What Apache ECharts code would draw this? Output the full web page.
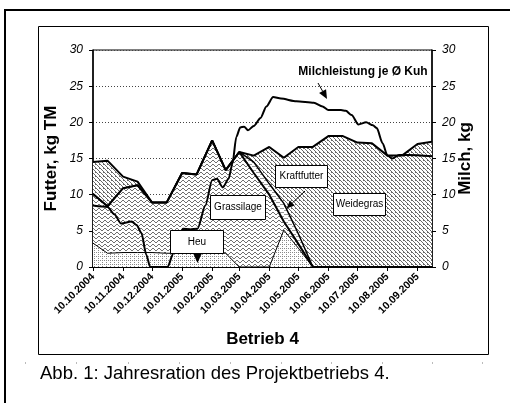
<!DOCTYPE html>
<html>
<head>
<meta charset="utf-8">
<script src="https://cdn.jsdelivr.net/npm/echarts@6/dist/echarts.min.js"></script>
<style>
    html, body { margin: 0; padding: 0; background: #fff; }
    #chart { width: 510px; height: 403px; }
</style>
</head>
<body>
<div id="chart"></div>
<script>
// Jahresration Betrieb 4 - gestapelte Futterflächen + Milchleistung

// Futterdaten, halbmonatlich (kg TM je Kuh und Tag)
const feedDates = [
    '2004-10-10', '2004-10-25', '2004-11-10', '2004-11-25', '2004-12-10', '2004-12-25',
    '2005-01-10', '2005-01-25', '2005-02-10', '2005-02-24', '2005-03-10', '2005-03-25',
    '2005-04-10', '2005-04-25', '2005-05-10', '2005-05-25', '2005-06-10', '2005-06-25',
    '2005-07-10', '2005-07-25', '2005-08-10', '2005-08-25', '2005-09-10', '2005-09-25'
];
const heu         = [3.3, 1.9, 2.0, 2.0, 2.0, 1.9, 1.9, 1.9, 1.9, 1.9, 0, 0, 0, 5.1, 2.6, 0, 0, 0, 0, 0, 0, 0, 0, 0];
const grassilage  = [6.8, 6.5, 8.9, 9.3, 6.9, 7.0, 11.1, 10.9, 15.6, 11.5, 15.9, 13.0, 10.0, 1.2, 0.6, 0, 0, 0, 0, 0, 0, 0, 0, 0];
const kraftfutter = [0, 0, 0, 0, 0, 0, 0, 0, 0, 0, 0, 1.5, 1.5, 2.5, 1.4, 0, 0, 0, 0, 0, 0, 0, 0, 0];
const weidegras   = [4.4, 6.3, 1.6, 0.5, 0, 0, 0, 0, 0, 0, 0, 0.9, 5.1, 6.3, 12.0, 16.6, 18.1, 18.1, 17.2, 17.1, 15.4, 15.4, 17.0, 17.3];

// Milchleistung je Kuh (kg), rechte Achse
const milkDates = [
    '2004-10-10', '2004-10-25', '2004-11-01', '2004-11-08', '2004-11-19', '2004-11-24', '2004-11-29',
    '2004-12-04', '2004-12-08', '2004-12-26', '2005-01-01', '2005-01-06', '2005-01-11', '2005-01-18',
    '2005-01-26', '2005-02-03', '2005-02-10', '2005-02-15', '2005-02-21', '2005-02-27', '2005-03-03',
    '2005-03-07', '2005-03-11', '2005-03-15', '2005-03-19', '2005-03-25', '2005-04-01', '2005-04-07',
    '2005-04-14', '2005-04-22', '2005-05-08', '2005-05-26', '2005-06-04', '2005-06-10', '2005-06-23',
    '2005-06-28', '2005-07-04', '2005-07-11', '2005-07-19', '2005-07-26', '2005-07-30', '2005-08-05',
    '2005-08-10', '2005-08-15', '2005-08-22', '2005-09-01', '2005-09-25'
];
const milkValues = [
    8.5, 8.3, 7.3, 6.0, 6.3, 5.8, 4.7,
    1.7, 0, 0, 1.9, 4.0, 5.3, 5.2,
    5.3, 8.5, 12.0, 12.2, 11.0, 12.2, 14.3,
    18.0, 19.3, 19.4, 18.9, 19.5, 20.6, 22.2,
    23.5, 23.3, 22.9, 22.7, 22.2, 21.7, 21.7,
    21.6, 21.0, 19.7, 20.0, 19.6, 19.2, 17.1,
    15.4, 15.0, 15.5, 15.5, 15.3
];

// Achsenbeschriftung (Datum)
const tickLabels = [
    '10.10.2004', '10.11.2004', '10.12.2004', '10.01.2005', '10.02.2005', '10.03.2005',
    '10.04.2005', '10.05.2005', '10.06.2005', '10.07.2005', '10.08.2005', '10.09.2005'
];
const startDate = '2004-10-10';
const endDate = '2005-09-25';

const FONT = 'Liberation Sans, Arial, sans-serif';
const DAY = 86400000;

function parseDay(s) {
    // 'YYYY-MM-DD' oder 'DD.MM.YYYY'
    let y, m, d;
    if (s.indexOf('.') > 0) {
        [d, m, y] = s.split('.').map(Number);
    } else {
        [y, m, d] = s.split('-').map(Number);
    }
    return Date.UTC(y, m - 1, d);
}

const t0 = parseDay(startDate);
// Tage seit Beginn -> x-Wert
function dayIndex(s) {
    return Math.round((parseDay(s) - t0) / DAY);
}

function fmtDay(v) {
    const dt = new Date(t0 + v * DAY);
    const p = n => (n < 10 ? '0' : '') + n;
    return p(dt.getUTCDate()) + '.' + p(dt.getUTCMonth() + 1) + '.' + dt.getUTCFullYear();
}

// kleine Kachelmuster wie in Excel
function makePattern(w, h, color, pixels) {
    const c = document.createElement('canvas');
    c.width = w;
    c.height = h;
    const ctx = c.getContext('2d');
    ctx.fillStyle = '#fff';
    ctx.fillRect(0, 0, w, h);
    ctx.fillStyle = color;
    pixels.forEach(p => ctx.fillRect(p[0], p[1], p[2] || 1, p[3] || 1));
    return { image: c, repeat: 'repeat' };
}

const patWeide = makePattern(4, 4, '#6a6a6a', [[0, 0], [1, 1], [2, 2], [3, 3], [3, 0]]);
const patGras = makePattern(6, 4, '#6e6e6e', [[2, 0, 2], [1, 1], [4, 1], [0, 2], [5, 2]]);
const patHeu = makePattern(4, 4, '#8a8a8a', [[0, 0], [2, 2], [2, 0]]);
const patKraft = makePattern(8, 4, '#9a9a9a', [[0, 0, 4], [4, 2, 4]]);

// Wert zuerst, damit der Stapel auf y rechnet (beide Achsen sind 'value')
function pairs(dates, vals) {
    return dates.map((d, i) => [vals[i], dayIndex(d)]);
}

function areaSeries(name, vals, pattern, lw) {
    return {
        name: name,
        type: 'line',
        stack: 'futter',
        data: pairs(feedDates, vals),
        encode: { x: 1, y: 0 },
        showSymbol: false,
        lineStyle: { color: '#000', width: lw },
        areaStyle: { color: pattern, opacity: 1 },
        z: 2
    };
}

// Pfeil mit gefüllter Spitze
function arrow(x1, y1, x2, y2, head, width) {
    const ang = Math.atan2(y2 - y1, x2 - x1);
    const bx = x2 - head * Math.cos(ang), by = y2 - head * Math.sin(ang);
    const nx = -Math.sin(ang) * width / 2, ny = Math.cos(ang) * width / 2;
    return [
        { type: 'line', z: 110, shape: { x1: x1, y1: y1, x2: bx, y2: by }, style: { stroke: '#000', lineWidth: 1 } },
        { type: 'polygon', z: 110, shape: { points: [[x2, y2], [bx + nx, by + ny], [bx - nx, by - ny]] }, style: { fill: '#000' } }
    ];
}

function labelBox(x, y, w, h, text) {
    return [
        { type: 'rect', z: 100, shape: { x: x + 0.5, y: y + 0.5, width: w, height: h }, style: { fill: '#fff', stroke: '#000', lineWidth: 1 } },
        { type: 'text', z: 101, x: x + w / 2 + 0.5, y: y + h / 2 + 0.5,
          style: { text: text, font: '10px ' + FONT, fill: '#000', align: 'center', verticalAlign: 'middle' } }
    ];
}

const tickValues = tickLabels.map(dayIndex);

const chart = echarts.init(document.getElementById('chart'));

const graphics = [
    // äußerer Rahmen (rechts abgeschnitten)
    { type: 'polyline', z: 90, shape: { points: [[5, 403], [5, 10], [510, 10]] }, style: { stroke: '#000', lineWidth: 2, fill: null } },
    // Diagrammrahmen
    { type: 'rect', z: 90, shape: { x: 38.5, y: 26.5, width: 450, height: 328 }, style: { stroke: '#000', lineWidth: 1, fill: null } },
    { type: 'text', z: 90, x: 40, y: 373.5,
      style: { text: 'Abb. 1: Jahresration des Projektbetriebs 4.', font: '18.5px ' + FONT, fill: '#000', verticalAlign: 'middle' } },
    { type: 'text', z: 100, x: 363, y: 72,
      style: { text: 'Milchleistung je Ø Kuh', font: 'bold 12px ' + FONT, fill: '#000', align: 'center', verticalAlign: 'middle' } }
];
// Linealmarken unter dem Rahmen
[25, 76, 128, 179, 230, 281, 331, 382, 432, 482].forEach(x => {
    graphics.push({ type: 'rect', z: 90, shape: { x: x, y: 362, width: 1, height: 2 }, style: { fill: '#bbb' } });
});
graphics.push(...arrow(318, 83, 327, 99, 9, 8));
graphics.push(...labelBox(275, 165, 52, 22, 'Kraftfutter'));
graphics.push(...arrow(305, 191, 286.5, 208.5, 8, 7));
graphics.push(...labelBox(210, 195, 55, 24, 'Grassilage'));
graphics.push(...labelBox(170, 230, 53, 23, 'Heu'));
graphics.push({ type: 'polygon', z: 110, shape: { points: [[193, 253], [202, 253], [197.5, 263]] }, style: { fill: '#000' } });
graphics.push(...labelBox(333, 193, 52, 22, 'Weidegras'));

const titleStyle = { fontSize: 17, fontWeight: 'bold', color: '#000', fontFamily: FONT };

const option = {
    animation: false,
    textStyle: { fontFamily: FONT },
    grid: {
        left: 93, right: 78, top: 50, bottom: 136,
        show: true, borderColor: '#000', borderWidth: 1,
        outerBoundsMode: 'none'
    },
    xAxis: {
        type: 'value',
        min: 0,
        max: dayIndex(endDate),
        name: 'Betrieb 4',
        nameLocation: 'middle',
        nameGap: 64,
        nameMoveOverlap: false,
        nameTextStyle: titleStyle,
        axisLine: { lineStyle: { color: '#000', width: 2 } },
        axisTick: { show: true, customValues: tickValues, length: 4, lineStyle: { color: '#000' } },
        axisLabel: {
            customValues: tickValues,
            rotate: 45,
            margin: 8,
            fontSize: 10.5,
            fontWeight: 'bold',
            color: '#000',
            formatter: v => fmtDay(v)
        },
        splitLine: { show: false }
    },
    yAxis: [
        {
            type: 'value', min: 0, max: 30, interval: 5,
            name: 'Futter, kg TM',
            nameLocation: 'middle',
            nameRotate: 90,
            nameGap: 33,
            nameMoveOverlap: false,
            nameTextStyle: titleStyle,
            axisLine: { show: true, lineStyle: { color: '#000', width: 1.5 } },
            axisTick: { show: true, length: 4, lineStyle: { color: '#000' } },
            axisLabel: { fontSize: 12, fontStyle: 'italic', color: '#000', margin: 10 },
            splitLine: { show: true, lineStyle: { color: '#444', type: [1, 2], width: 1 } }
        },
        {
            type: 'value', min: 0, max: 30, interval: 5,
            position: 'right',
            name: 'Milch, kg',
            nameLocation: 'middle',
            nameRotate: 90,
            nameGap: 25,
            nameMoveOverlap: false,
            nameTextStyle: titleStyle,
            axisLine: { show: true, lineStyle: { color: '#000', width: 1.5 } },
            axisTick: { show: true, length: 4, lineStyle: { color: '#000' } },
            axisLabel: { fontSize: 12, fontStyle: 'italic', color: '#000', margin: 10 },
            splitLine: { show: false }
        }
    ],
    series: [
        areaSeries('Heu', heu, patHeu, 1),
        areaSeries('Grassilage', grassilage, patGras, 2),
        areaSeries('Kraftfutter', kraftfutter, patKraft, 1.5),
        areaSeries('Weidegras', weidegras, patWeide, 2),
        {
            name: 'Milchleistung je Ø Kuh',
            type: 'line',
            yAxisIndex: 1,
            data: pairs(milkDates, milkValues),
            encode: { x: 1, y: 0 },
            showSymbol: false,
            smooth: 0.25,
            smoothMonotone: 'x',
            lineStyle: { color: '#000', width: 2 },
            z: 5
        }
    ],
    graphic: { elements: graphics }
};

chart.setOption(option);
</script>
</body>
</html>
